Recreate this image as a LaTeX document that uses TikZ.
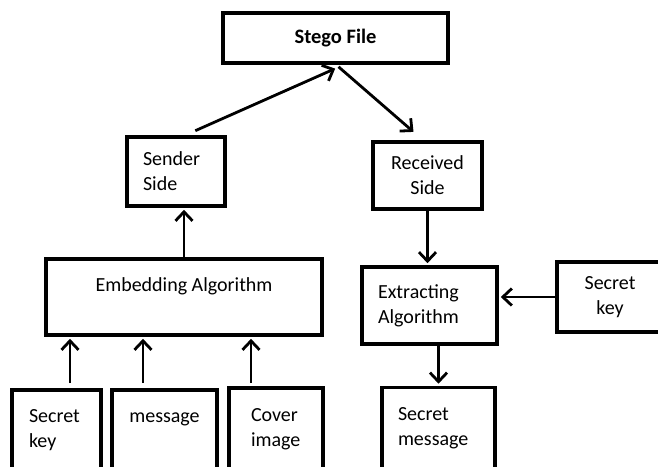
\documentclass[tikz,border=0pt]{standalone}
\usepackage{fontspec}
\setmainfont{Carlito}
\usetikzlibrary{arrows.meta,calc}
\begin{document}
\begin{tikzpicture}[x=1pt,y=-1pt,
  box/.style={draw,line width=3.6pt,rectangle,font=\fontsize{20}{25}\selectfont,inner sep=0pt},
  lbox/.style={box,align=left},
  cbox/.style={box,align=center},
  arr/.style={line width=2.8pt,-{Straight Barb[length=9pt,width=17pt]},shorten >=2pt}]
\useasboundingbox (0,0) rectangle (658,466);
\clip (0,0) rectangle (658,466);
% nodes
\node[cbox,minimum width=225pt,minimum height=50pt,font=\fontsize{20.5}{25}\selectfont\bfseries] (stego) at (335.5,38) {Stego File};
\node[lbox,minimum width=98pt,minimum height=69pt,text width=66pt] (sender) at (176,171.5) {Sender\\Side};
\node[cbox,minimum width=109pt,minimum height=67pt] (received) at (427.5,175.5) {Received\\Side};
\node[cbox,minimum width=276pt,minimum height=76pt,text height=14pt,text depth=25pt] (emb) at (184,297) {Embedding Algorithm};
\node[lbox,minimum width=135pt,minimum height=77pt,text width=103pt] (extr) at (429.5,305.5) {Extracting\\Algorithm};
\node[cbox,minimum width=106pt,minimum height=70pt] (keyR) at (610,297) {Secret\\key};
\node[lbox,minimum width=89pt,minimum height=80pt,text width=55pt] (keyL) at (56.5,430) {Secret\\key};
\node[cbox,minimum width=105pt,minimum height=80pt,text height=14pt,text depth=29pt] (msg) at (164.5,430) {message};
\node[lbox,minimum width=94pt,minimum height=82pt,text width=50pt] (cover) at (276,429) {Cover\\image};
\node[lbox,minimum width=113pt,minimum height=81pt,text width=81pt] (smsg) at (438.5,428) {Secret\\message};
% helper coordinates
\coordinate (s1) at ($(sender.north west)!0.69!(sender.north east)+(0,-4.5)$);
\coordinate (t1) at ($(stego.south)+(1.5,3)$);
\coordinate (s2) at ($(stego.south)+(3,2)$);
\coordinate (t2) at ($(received.north)+(-12.5,-7)$);
\coordinate (k1) at ($(keyL.north)+(13.5,-5)$);
\coordinate (m1) at ($(msg.north)+(-21.5,-5)$);
\coordinate (c1) at ($(cover.north)+(-25,-3)$);
\coordinate (x1) at ($(smsg.north)+(0,0)$);
% connectors
\draw[arr] (s1) -- (t1);
\draw[arr] (s2) -- (t2);
\draw[arr] (emb.north) -- (emb.north |- sender.south);
\draw[arr] (k1) -- (k1 |- emb.south);
\draw[arr] (m1) -- (m1 |- emb.south);
\draw[arr] (c1) -- (c1 |- emb.south);
\draw[arr] (received.south) -- (received.south |- extr.north);
\draw[arr] (x1 |- extr.south) -- (x1);
\draw[arr] (keyR.west) -- (keyR.west -| extr.east);
\end{tikzpicture}
\end{document}
